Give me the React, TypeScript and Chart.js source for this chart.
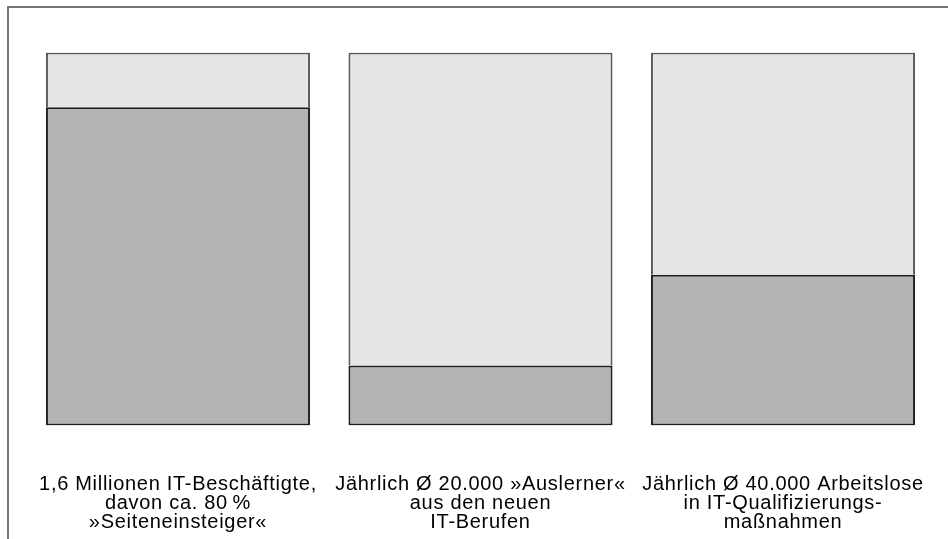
import React, { useEffect, useRef } from "react";
import { Chart, registerables } from "chart.js";

Chart.register(...registerables);

const categories: string[][] = [
  ["1,6 Millionen IT-Beschäftigte,", "davon ca. 80\u2009%", "»Seiteneinsteiger«"],
  ["Jährlich Ø 20.000 »Auslerner«", "aus den neuen", "IT-Berufen"],
  ["Jährlich Ø 40.000 Arbeitslose", "in IT-Qualifizierungs-", "maßnahmen"],
];
const darkShare: number[] = [85.3, 16.1, 40.4];
const lightShare: number[] = [14.7, 83.9, 59.6];

const letterSpacingPlugin = {
  id: "labelSpacing",
  beforeDraw(chart: any) {
    try {
      chart.ctx.letterSpacing = "0.7px";
    } catch (e) {}
  },
  afterDraw(chart: any) {
    try {
      chart.ctx.letterSpacing = "0px";
    } catch (e) {}
  },
};

export default function App() {
  const ref = useRef<HTMLCanvasElement | null>(null);
  useEffect(() => {
    if (!ref.current) return;
    const chart = new Chart(ref.current, {
      type: "bar",
      data: {
        labels: categories,
        datasets: [
          {
            data: darkShare,
            backgroundColor: "#b3b3b3",
            borderColor: "#1e1e1e",
            borderWidth: 2,
            borderSkipped: false,
            categoryPercentage: 1,
            barPercentage: 0.873,
          },
          {
            data: lightShare,
            backgroundColor: "#e6e6e6",
            borderColor: "#5a5a5a",
            borderWidth: { top: 2, left: 2, right: 2, bottom: 0 },
            borderSkipped: false,
            categoryPercentage: 1,
            barPercentage: 0.873,
          },
        ],
      },
      options: {
        animation: false,
        responsive: false,
        devicePixelRatio: 1,
        layout: { padding: { left: 26.75, right: 13.75, top: 52.5, bottom: 0 } },
        plugins: { legend: { display: false }, tooltip: { enabled: false } },
        scales: {
          x: {
            stacked: true,
            grid: { display: false, drawTicks: false },
            border: { display: false },
            afterFit: (scale: any) => {
              scale.height = 113.5;
              scale.paddingLeft = 0;
              scale.paddingRight = 0;
            },
            ticks: {
              color: "#000",
              padding: 49,
              maxRotation: 0,
              autoSkip: false,
              font: { family: "'Liberation Sans', Arial, sans-serif", size: 20, lineHeight: 0.95 },
            },
          },
          y: {
            stacked: true,
            display: false,
            min: 0,
            max: 100,
          },
        },
      },
      plugins: [letterSpacingPlugin],
    });
    return () => chart.destroy();
  }, []);
  return (
    <div style={{ position: "fixed", left: 0, top: 0, width: 948, height: 539, background: "#fff", overflow: "hidden" }}>
      <div
        style={{
          position: "absolute",
          left: 7,
          top: 6,
          width: 1000,
          height: 600,
          borderLeft: "2px solid #777",
          borderTop: "2px solid #777",
        }}
      />
      <canvas ref={ref} width={948} height={539} style={{ position: "absolute", left: 0, top: 0 }} />
    </div>
  );
}
